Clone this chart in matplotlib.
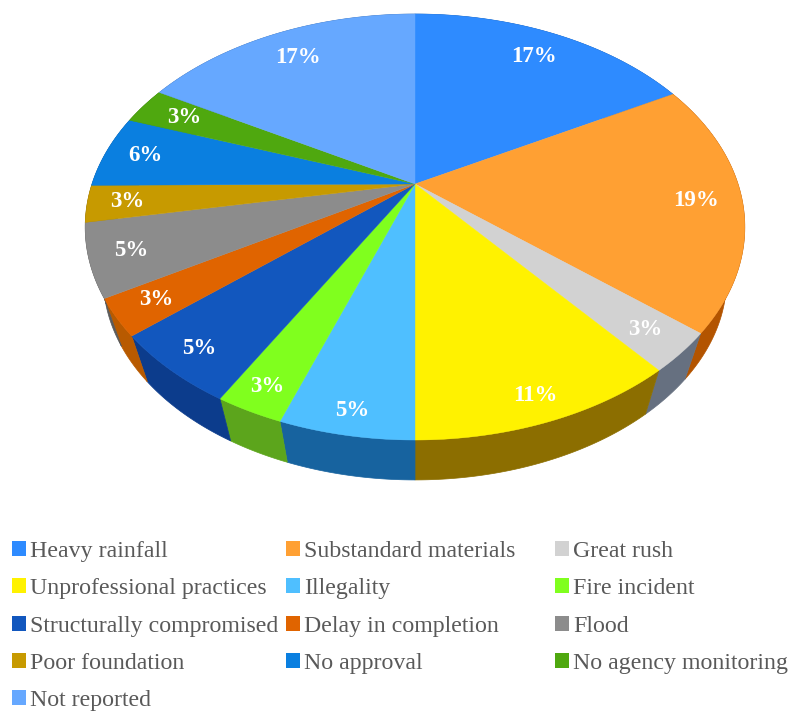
import numpy as np
import matplotlib
matplotlib.use("Agg")
import matplotlib.pyplot as plt
from matplotlib.patches import Polygon, Patch

plt.rcParams["font.family"] = ["Liberation Serif", "DejaVu Serif"]

categories = [
    "Heavy rainfall", "Substandard materials", "Great rush",
    "Unprofessional practices", "Illegality", "Fire incident",
    "Structurally compromised", "Delay in completion", "Flood",
    "Poor foundation", "No approval", "No agency monitoring",
    "Not reported",
]

# Slice sizes, the printed labels are rounded
shares = [17, 19, 3, 11, 5.5, 2.8, 5.5, 2.8, 5.5, 2.8, 5.5, 2.8, 16.8]
pct_labels = ["17%", "19%", "3%", "11%", "5%", "3%", "5%", "3%", "5%", "3%", "6%", "3%", "17%"]

top_colors = [
    "#2E8BFF", "#FFA033", "#D2D2D2", "#FFF200", "#4FBFFF", "#80FF1E",
    "#1257BE", "#E06400", "#8C8C8C", "#C79A00", "#0A7FE0", "#4FA80F",
    "#66A8FF",
]
side_colors = [
    "#1A5FB0", "#B35400", "#667080", "#8C6E00", "#17639F", "#5CA51C",
    "#0C3C8C", "#B85A00", "#5A5A5A", "#806000", "#0A5AA0", "#357A0A",
    "#4070B0",
]
label_radius = [0.83, 0.86, 0.88, 0.91, 0.92, 0.91, 0.90, 0.88, 0.88, 0.88, 0.87, 0.84, 0.82]

# Perspective settings for the tilted disc
cx, cy = 415, 184
a, b, k = 323, 204.3, 0.202
side_scale, side_drop = 0.945, 54


def project(frac, r=1.0, lower=False):
    ang = 2 * np.pi * np.asarray(frac)
    x = r * np.sin(ang)
    y = r * np.cos(ang)
    den = 1 + k * y
    px = a * x / den
    py = b * y / den
    if lower:
        return cx + side_scale * px, cy - side_scale * py + side_drop
    return cx + px, cy - py


fig = plt.figure(figsize=(7.96, 7.11), dpi=100)
ax = fig.add_axes([0, 0, 1, 1])
ax.set_xlim(0, 796)
ax.set_ylim(711, 0)
ax.axis("off")

edges = np.cumsum([0] + shares) / sum(shares)

# Side wall first, the top of the pie goes over it
for i in range(len(shares)):
    t = np.linspace(edges[i], edges[i + 1], 80)
    ux, uy = project(t)
    lx, ly = project(t, lower=True)
    pts = np.column_stack([np.r_[ux, lx[::-1]], np.r_[uy, ly[::-1]]])
    ax.add_patch(Polygon(pts, closed=True, fc=side_colors[i], ec=side_colors[i], lw=0.5, zorder=1))

for i in range(len(shares)):
    t = np.linspace(edges[i], edges[i + 1], 80)
    ux, uy = project(t)
    pts = np.column_stack([np.r_[cx, ux], np.r_[cy, uy]])
    ax.add_patch(Polygon(pts, closed=True, fc=top_colors[i], ec=top_colors[i], lw=0.3, zorder=2))

    tx, ty = project((edges[i] + edges[i + 1]) / 2, label_radius[i])
    ax.text(tx, ty, pct_labels[i], color="white", fontsize=16.5, fontweight="bold",
            ha="center", va="center", zorder=3)

# One legend per column, the columns are not evenly spaced in the original
columns = [[0, 3, 6, 9, 12], [1, 4, 7, 10], [2, 5, 8, 11]]
column_x = [12, 286, 555]
for col, x0 in zip(columns, column_x):
    handles = [Patch(fc=top_colors[i], ec="none", label=categories[i]) for i in col]
    leg = ax.legend(
        handles=handles,
        loc="upper left",
        bbox_to_anchor=(x0 / 796, 1 - 541 / 711),
        frameon=False,
        fontsize=17.2,
        labelcolor="#595959",
        handlelength=0.6,
        handleheight=0.6,
        handletextpad=0.17,
        labelspacing=0.68,
        borderpad=0,
        borderaxespad=0,
    )
    ax.add_artist(leg)
ax.legend_ = None

fig.savefig("out.png", dpi=100)
